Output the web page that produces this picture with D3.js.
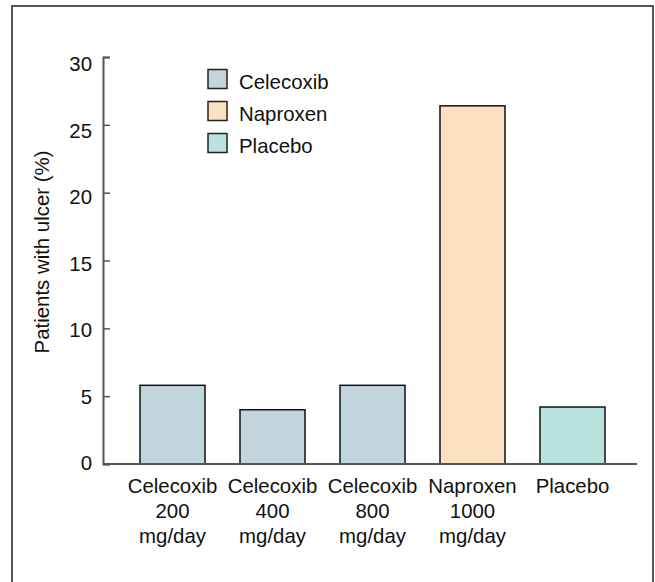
<!DOCTYPE html>
<html>
<head>
<meta charset="utf-8">
<script src="https://cdn.jsdelivr.net/npm/d3@7"></script>
<style>
  body { margin: 0; background: #fff; }
  text { font-family: "Liberation Sans", Arial, sans-serif; fill: #111; }
</style>
</head>
<body>
<div id="chart"></div>
<script>
// chart size
const WIDTH = 655;
const HEIGHT = 582;
const FONT = "20.4px";

const MARGIN = { top: 57, right: 18, bottom: 118, left: 103 };

// data
const groups = ["Celecoxib 200", "Celecoxib 400", "Celecoxib 800", "Naproxen 1000", "Placebo"];
const labelLines = [
  ["Celecoxib", "200", "mg/day"],
  ["Celecoxib", "400", "mg/day"],
  ["Celecoxib", "800", "mg/day"],
  ["Naproxen", "1000", "mg/day"],
  ["Placebo"]
];
const drug = ["Celecoxib", "Celecoxib", "Celecoxib", "Naproxen", "Placebo"];
const ulcerPct = [5.8, 4.0, 5.8, 26.4, 4.2];
const legendNames = ["Celecoxib", "Naproxen", "Placebo"];
const yTicks = [0, 5, 10, 15, 20, 25, 30];

const colour = d3.scaleOrdinal()
  .domain(legendNames)
  .range(["#c2d5dd", "#fde0bf", "#bae3de"]);

var svg = d3.select("#chart")
  .append("svg")
  .attr("width", WIDTH)
  .attr("height", HEIGHT);

// outer frame
svg.append("rect")
  .attr("x", 12).attr("y", 6)
  .attr("width", 641).attr("height", 600)
  .attr("fill", "none")
  .attr("stroke", "#444")
  .attr("stroke-width", 1.8);

var x = d3.scaleBand()
  .domain(groups)
  .range([MARGIN.left, 642])
  .paddingInner(0.35)
  .paddingOuter(0.37);

var y = d3.scaleLinear()
  .domain([0, 30])
  .range([464, MARGIN.top]);

// the printed tick numbers sit on a slightly tighter spacing than the ticks
var yLabel = d3.scaleLinear()
  .domain([0, 30])
  .range([463, 64]);

// bars
svg.append("g")
  .selectAll("rect")
  .data(groups)
  .join("rect")
  .attr("x", (d) => x(d))
  .attr("y", (d, i) => y(ulcerPct[i]))
  .attr("width", x.bandwidth())
  .attr("height", (d, i) => y(0) - y(ulcerPct[i]))
  .attr("fill", (d, i) => colour(drug[i]))
  .attr("stroke", "#111")
  .attr("stroke-width", 1.5);

// y axis, ticks pointing inside
svg.append("g")
  .attr("transform", `translate(${MARGIN.left},0)`)
  .call(d3.axisRight(y).tickValues(yTicks).tickSize(7).tickSizeOuter(7))
  .call((g) => g.select(".domain").attr("stroke", "#555").attr("stroke-width", 2))
  .call((g) => g.selectAll(".tick line").attr("stroke", "#555").attr("stroke-width", 1.5))
  .call((g) => g.selectAll(".tick text").remove());

svg.append("g")
  .selectAll("text")
  .data(yTicks)
  .join("text")
  .attr("x", MARGIN.left - 11)
  .attr("y", (d) => yLabel(d))
  .attr("dy", "0.36em")
  .attr("text-anchor", "end")
  .attr("font-size", FONT)
  .text((d) => d);

// baseline
svg.append("line")
  .attr("x1", MARGIN.left).attr("x2", 637)
  .attr("y1", y(0)).attr("y2", y(0))
  .attr("stroke", "#555")
  .attr("stroke-width", 2);

// category labels
var lab = svg.append("g")
  .selectAll("text")
  .data(groups)
  .join("text")
  .attr("text-anchor", "middle")
  .attr("font-size", FONT)
  .attr("y", 492.5);

lab.selectAll("tspan")
  .data((d, i) => labelLines[i].map((t) => ({ t: t, g: d })))
  .join("tspan")
  .attr("x", (d) => x(d.g) + x.bandwidth() / 2)
  .attr("dy", (d, j) => (j === 0 ? 0 : 25))
  .text((d) => d.t);

// y axis title
svg.append("text")
  .attr("transform", "translate(49,252) rotate(-90)")
  .attr("text-anchor", "middle")
  .attr("font-size", FONT)
  .text("Patients with ulcer (%)");

// legend
var legend = svg.append("g")
  .selectAll("g")
  .data(legendNames)
  .join("g")
  .attr("transform", (d, i) => `translate(208,${69.5 + i * 32})`);

legend.append("rect")
  .attr("width", 19)
  .attr("height", 19)
  .attr("fill", (d) => colour(d))
  .attr("stroke", "#222")
  .attr("stroke-width", 1.5);

legend.append("text")
  .attr("x", 31)
  .attr("y", 19.5)
  .attr("font-size", FONT)
  .text((d) => d);
</script>
</body>
</html>
